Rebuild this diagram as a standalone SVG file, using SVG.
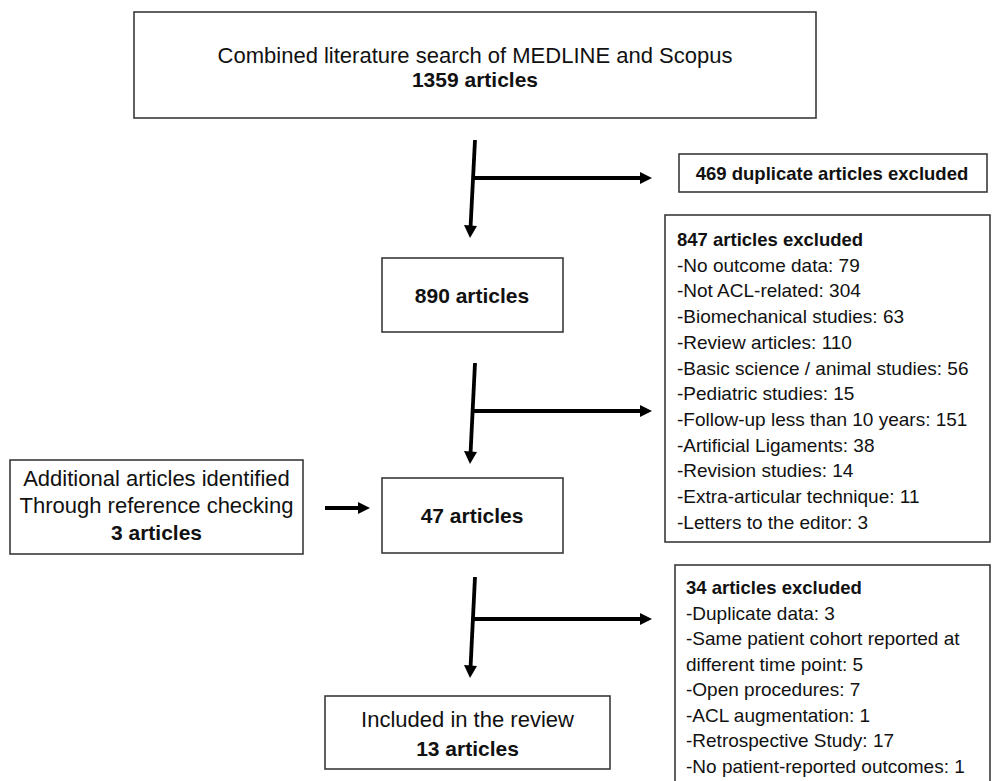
<svg xmlns="http://www.w3.org/2000/svg" width="993" height="781" viewBox="0 0 993 781">
<style>
.box{fill:#fff;stroke:#3a3a3a;stroke-width:1.6}
text{font-family:"Liberation Sans",Arial,sans-serif;fill:#111}
.m{font-size:22px}
.mb{font-size:21px;font-weight:bold}
.l{font-size:19px}
.lb{font-size:18.5px;font-weight:bold}
.c{text-anchor:middle}
.ln{stroke:#000;stroke-width:3.8;fill:none}
.hd{fill:#000}
</style>
<rect width="993" height="781" fill="#fff"/>
<g id="search">
<rect class="box" x="134" y="12" width="682" height="106"/>
<text class="m c" x="475" y="63">Combined literature search of MEDLINE and Scopus</text>
<text class="mb c" x="475" y="87">1359 articles</text>
</g>
<g id="dup">
<rect class="box" x="679" y="154" width="308" height="38"/>
<text class="lb c" x="832" y="180">469 duplicate articles excluded</text>
</g>
<g id="n890">
<rect class="box" x="382" y="258" width="181" height="74"/>
<text class="mb c" x="472" y="303">890 articles</text>
</g>
<g id="excl847">
<rect class="box" x="665" y="215" width="325" height="327"/>
<text class="lb" x="677" y="246">847 articles excluded</text>
<text class="l" x="677" y="271.7">-No outcome data: 79</text>
<text class="l" x="677" y="297.4">-Not ACL-related: 304</text>
<text class="l" x="677" y="323.1">-Biomechanical studies: 63</text>
<text class="l" x="677" y="348.8">-Review articles: 110</text>
<text class="l" x="677" y="374.5">-Basic science / animal studies: 56</text>
<text class="l" x="677" y="400.2">-Pediatric studies: 15</text>
<text class="l" x="677" y="425.9">-Follow-up less than 10 years: 151</text>
<text class="l" x="677" y="451.6">-Artificial Ligaments: 38</text>
<text class="l" x="677" y="477.3">-Revision studies: 14</text>
<text class="l" x="677" y="503">-Extra-articular technique: 11</text>
<text class="l" x="677" y="528.7">-Letters to the editor: 3</text>
</g>
<g id="additional">
<rect class="box" x="10" y="460" width="293" height="94"/>
<text class="m c" x="156.5" y="486">Additional articles identified</text>
<text class="m c" x="156.5" y="512.5">Through reference checking</text>
<text class="mb c" x="156.5" y="539.5">3 articles</text>
</g>
<g id="n47">
<rect class="box" x="382" y="478" width="181" height="75"/>
<text class="mb c" x="472" y="523">47 articles</text>
</g>
<g id="excl34">
<rect class="box" x="675" y="565" width="315" height="230"/>
<text class="lb" x="686" y="594">34 articles excluded</text>
<text class="l" x="686" y="619.5">-Duplicate data: 3</text>
<text class="l" x="686" y="645">-Same patient cohort reported at</text>
<text class="l" x="686" y="670.5">different time point: 5</text>
<text class="l" x="686" y="696">-Open procedures: 7</text>
<text class="l" x="686" y="721.5">-ACL augmentation: 1</text>
<text class="l" x="686" y="747">-Retrospective Study: 17</text>
<text class="l" x="686" y="772.5">-No patient-reported outcomes: 1</text>
</g>
<g id="included">
<rect class="box" x="325" y="696" width="285" height="73"/>
<text class="m c" x="467.5" y="727">Included in the review</text>
<text class="mb c" x="467.5" y="756">13 articles</text>
</g>
<g id="connectors">
<line class="ln" x1="475" y1="140" x2="470.6" y2="226"/>
<polygon class="hd" points="464,225 477,226 470,238"/>
<line class="ln" x1="474" y1="178" x2="641" y2="178"/>
<polygon class="hd" points="640,172 640,184 652,178"/>
<line class="ln" x1="475" y1="363" x2="470.6" y2="452"/>
<polygon class="hd" points="464,451 477,452 470,464"/>
<line class="ln" x1="474" y1="411" x2="641" y2="411"/>
<polygon class="hd" points="640,405 640,417 652,411"/>
<line class="ln" x1="325" y1="508" x2="359" y2="508"/>
<polygon class="hd" points="358,502 358,514 370,508"/>
<line class="ln" x1="475" y1="577" x2="470.6" y2="666"/>
<polygon class="hd" points="464,665 477,666 470,678"/>
<line class="ln" x1="474" y1="619" x2="641" y2="619"/>
<polygon class="hd" points="640,613 640,625 652,619"/>
</g>
</svg>
